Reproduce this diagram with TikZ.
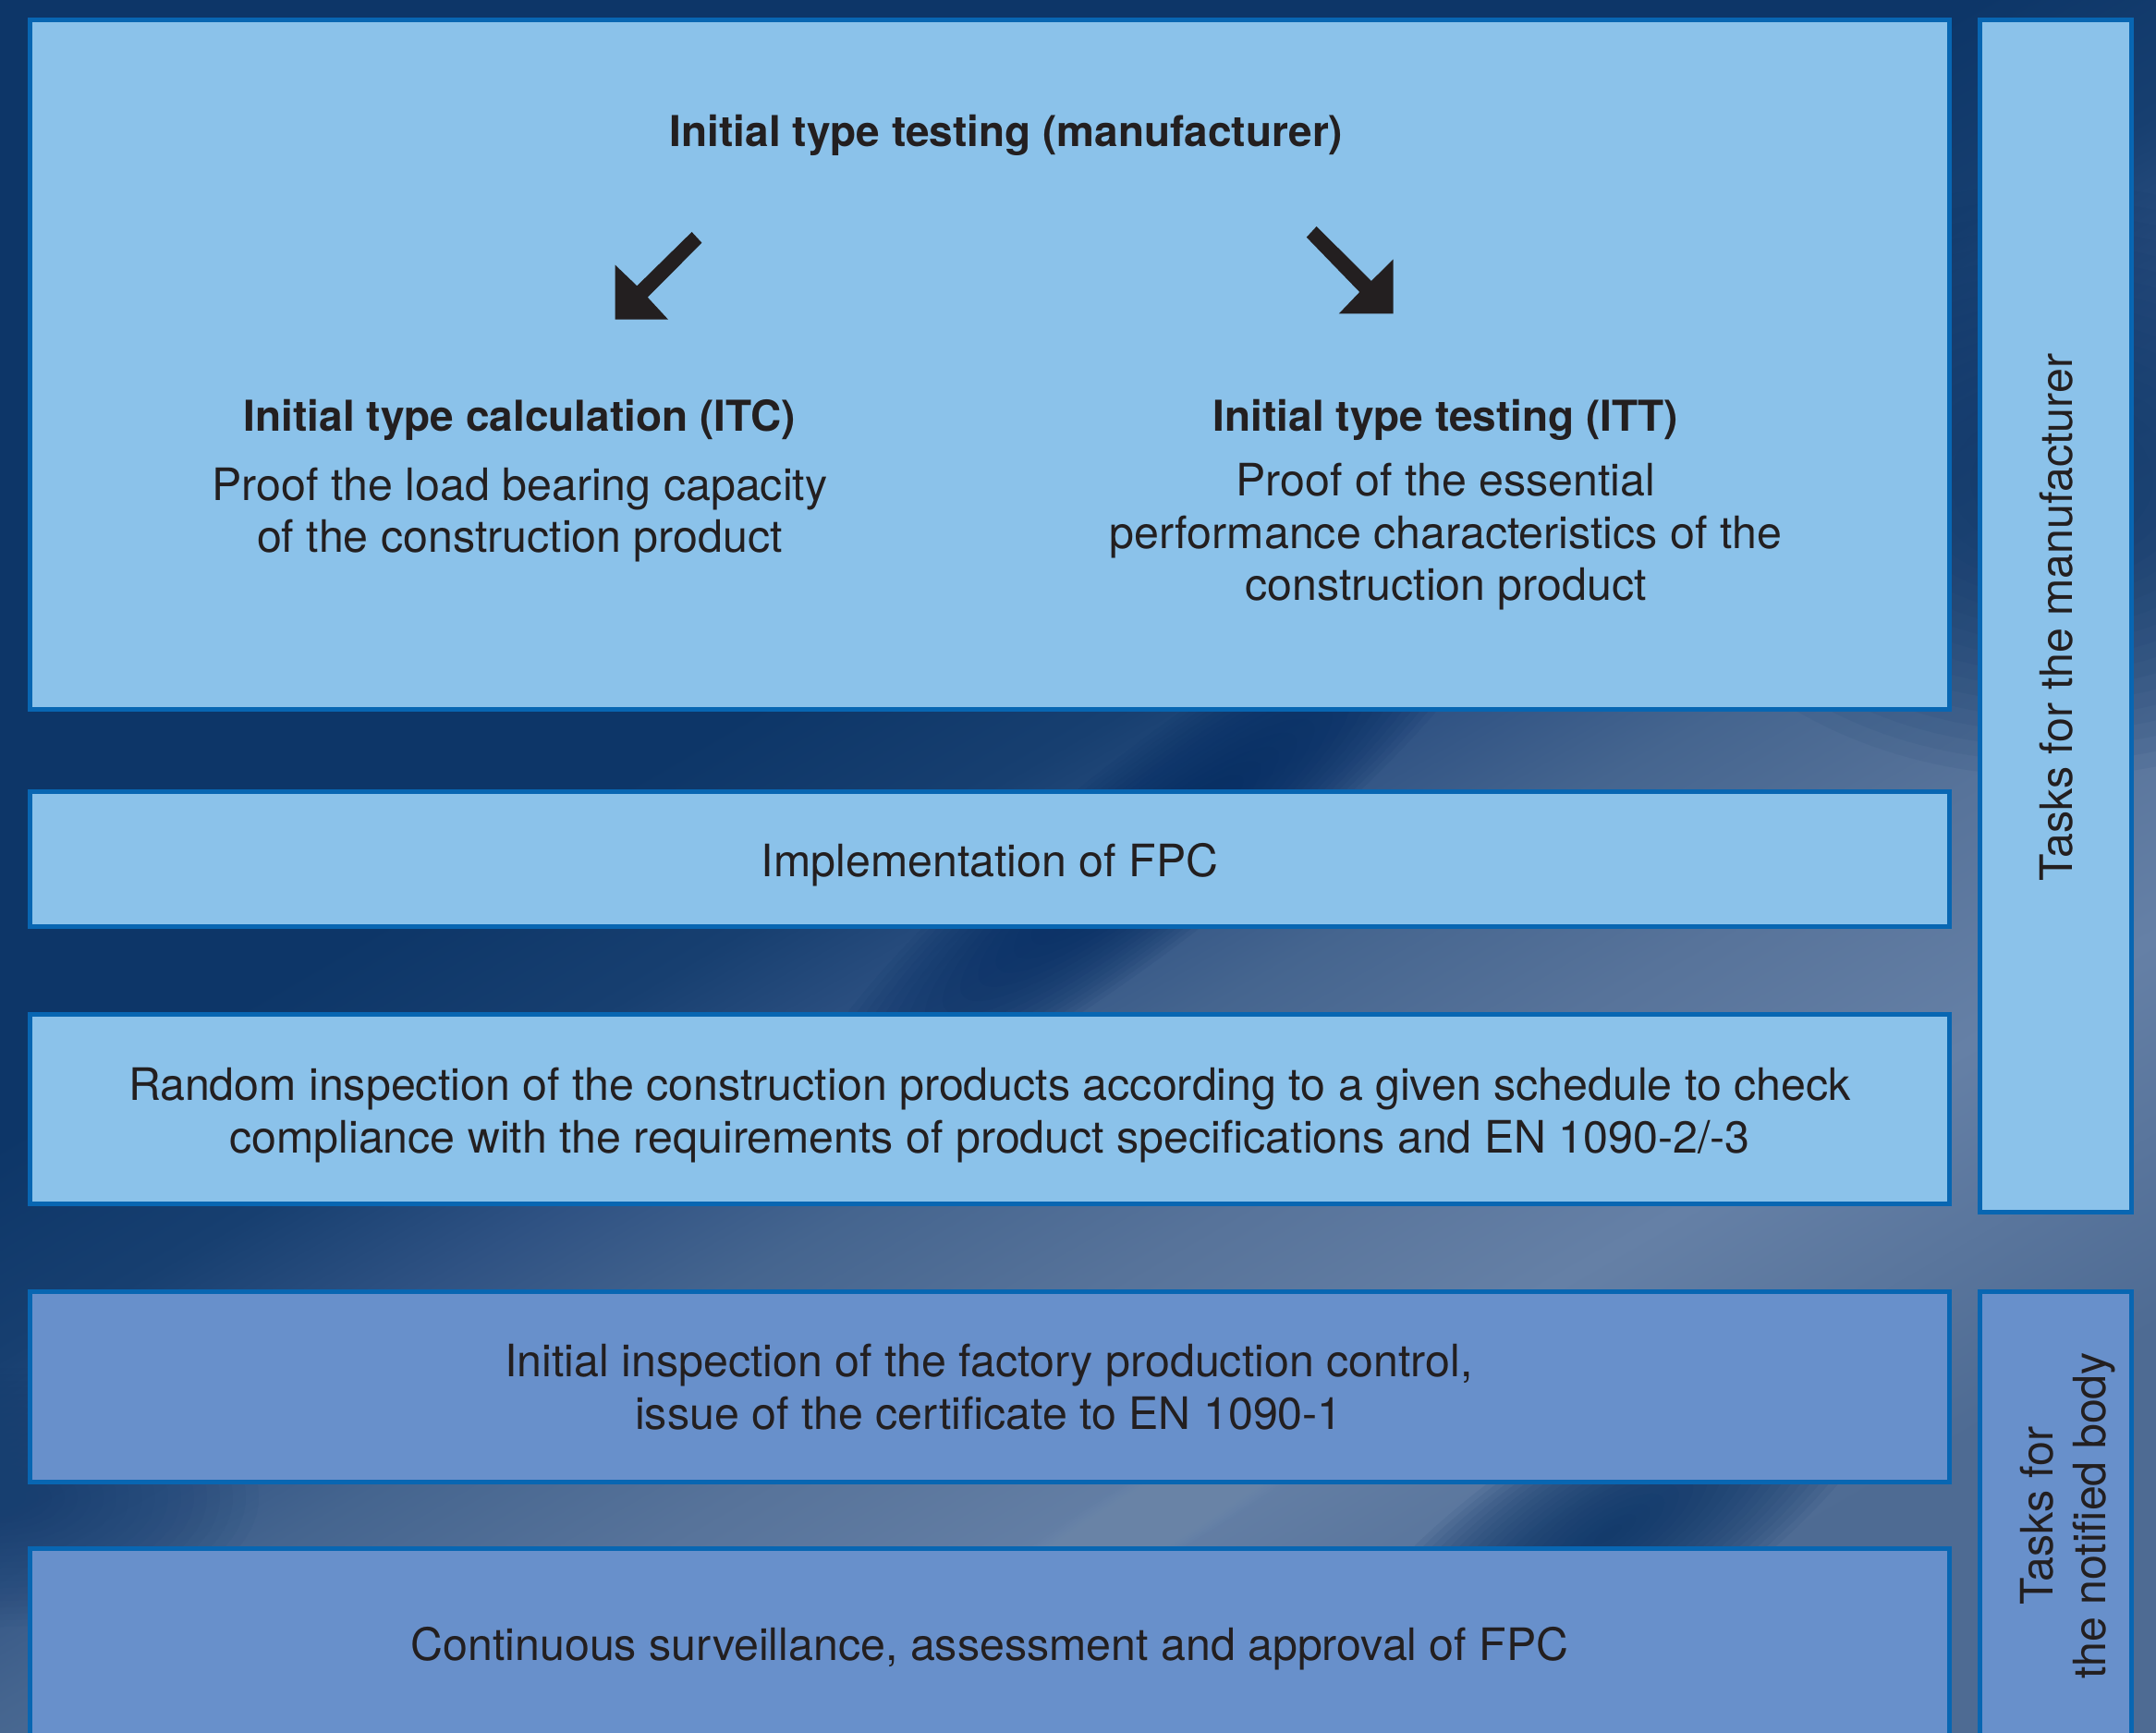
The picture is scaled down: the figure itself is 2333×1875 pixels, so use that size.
\documentclass[tikz,border=0pt]{standalone}
\usepackage{fontspec}
\setmainfont{TeX Gyre Heros}

% palette
\definecolor{navy}{HTML}{0D3668}
\definecolor{deepnavy}{HTML}{042C62}
\definecolor{bgA}{HTML}{173F70}
\definecolor{bgB}{HTML}{2F5283}
\definecolor{bgC}{HTML}{45658F}
\definecolor{bgD}{HTML}{57739A}
\definecolor{bgE}{HTML}{6580A6}
\definecolor{bgF}{HTML}{4E6B93}
\definecolor{streak}{HTML}{7690B3}
\definecolor{panel}{HTML}{8BC2EA}
\definecolor{panelnb}{HTML}{6890CB}
\definecolor{rim}{HTML}{0866B2}
\definecolor{ink}{HTML}{231F20}

\tikzset{
  panelbox/.style={draw=rim, line width=1.5pt, fill=panel, inner sep=0pt, outer sep=0pt, anchor=north west},
  bodybox/.style={panelbox, fill=panelnb},
  txt/.style={text=ink, inner sep=0pt, align=center, anchor=base, font=\fontsize{14.5}{16.95}\selectfont},
  headtxt/.style={txt, font=\fontsize{13.8}{16.95}\selectfont\bfseries},
  sidetxt/.style={txt, rotate=90},
  arrowshape/.style={fill=ink},
}

% a soft patch of colour: stacked translucent ellipses
% #1 colour, #2 centre, #3 angle, #4 x radius, #5 y radius, #6 strength
\newcommand\softpatch[6]{%
  \begin{scope}[shift={#2}, rotate=#3]
    \foreach \k in {1,...,20}{
      \fill[#1, opacity=#6] (0,0) ellipse [x radius={#4*\k/20}, y radius={#5*\k/20}];
    }
  \end{scope}}

\begin{document}
\begin{tikzpicture}[x=0.3pt, y=-0.3pt]
% diagonal backdrop: dark navy at the top left, grey blue towards the bottom right
\pgfdeclarehorizontalshading{backdrop}{100bp}{color(0bp)=(navy); color(42bp)=(navy);
  color(47bp)=(bgA); color(51bp)=(bgB); color(55bp)=(bgC); color(60bp)=(bgD);
  color(66bp)=(bgE); color(75bp)=(bgF); color(100bp)=(bgF)}
\useasboundingbox (0,0) rectangle (2333,1875);
\begin{scope}
\clip (0,0) rectangle (2333,1875);

% backdrop with its darker and lighter streaks
\shade[shading=backdrop, shading angle=-60] (0,0) rectangle (2333,1875);
\softpatch{deepnavy}{(1250,915)}{38}{480}{100}{0.085}
\softpatch{streak}{(1250,1640)}{31}{300}{45}{0.075}
\softpatch{navy}{(1740,1660)}{33}{360}{120}{0.085}
\softpatch{bgA}{(0,1620)}{0}{280}{140}{0.06}
\softpatch{navy}{(2220,520)}{0}{440}{320}{0.07}

% panels of the manufacturer
\node[panelbox, minimum width=623.1pt, minimum height=223.8pt] (itt) at (32.5,21.5) {};
\node[panelbox, minimum width=623.1pt, minimum height=43.8pt] (fpc) at (32.5,856.5) {};
\node[panelbox, minimum width=623.1pt, minimum height=61.5pt] (rand) at (32.5,1097.5) {};
\node[panelbox, minimum width=49.2pt, minimum height=387pt] (manu) at (2142.5,21.5) {};

% panels of the notified body
\node[bodybox, minimum width=623.1pt, minimum height=61.8pt] (insp) at (32.5,1397.5) {};
\node[bodybox, overlay, minimum width=623.1pt, minimum height=96pt] (surv) at (32.5,1675.5) {};
\node[bodybox, overlay, minimum width=49.2pt, minimum height=180pt] (nb) at (2142.5,1397.5) {};
\end{scope}

% texts (a multi-line node sits on the baseline of its last line)
\node[headtxt] (ittall) at (1089,159) {Initial type testing (manufacturer)};
\node[headtxt] (itc) at (562.5,467) {Initial type calculation (ITC)};
\node[txt] (itcbody) at (562.5,598) {Proof the load bearing capacity\\of the construction product};
\node[headtxt] (ittsub) at (1564.5,467) {Initial type testing (ITT)};
\node[txt] (ittbody) at (1564.5,650) {Proof of the essential\\performance characteristics of the\\construction product};
\node[txt] (fpctxt) at (1071,948) {Implementation of FPC};
\node[txt] (randtxt) at (1071,1247) {Random inspection of the construction products according to a given schedule to check\\compliance with the requirements of product specifications and EN 1090-2/-3};
\node[txt] (insptxt) at (1070,1546) {Initial inspection of the factory production control,\\issue of the certificate to EN 1090-1};
\node[txt] (survtxt) at (1071,1796) {Continuous surveillance, assessment and approval of FPC};
\node[sidetxt] (manutxt) at (2242,668) {Tasks for the manufacturer};
\node[sidetxt] (nbtxt) at (2278,1640) {Tasks for\\the notified body};

% arrows from the main heading to the two kinds of proof
\coordinate (la) at (665.7,345.7);
\coordinate (ra) at (1507.5,339.3);
\fill[arrowshape, shift={(la)}] (82.9,-94.7) -- (93.7,-83) -- (35.1,-24) -- (57.3,0) -- (0,0)
  -- (0,-59) -- (23.6,-36.4) -- cycle;
\fill[arrowshape, shift={(ra)}] (-82.9,-94.3) -- (-93.7,-82.6) -- (-36.3,-23.3) -- (-58.6,0) -- (0,0)
  -- (0,-58.6) -- (-23.6,-35.3) -- cycle;
\end{tikzpicture}
\end{document}
